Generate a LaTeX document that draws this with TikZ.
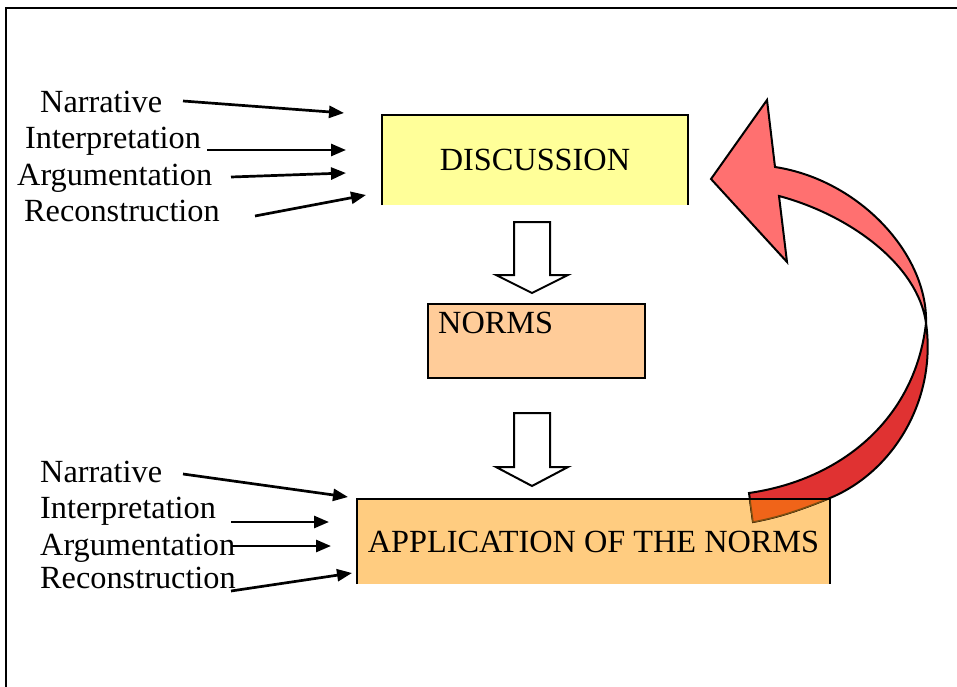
\documentclass[tikz,border=0pt]{standalone}
\usepackage{fontspec}
\setmainfont{Liberation Serif}
\usetikzlibrary{arrows.meta}
\definecolor{discyellow}{HTML}{FFFF99}
\definecolor{normsfill}{HTML}{FFCC99}
\definecolor{applfill}{HTML}{FFCC80}
\definecolor{lightred}{HTML}{FF7070}
\definecolor{darkred}{HTML}{E03232}
\definecolor{overorange}{HTML}{F06419}
\definecolor{overbrown}{HTML}{7F4F10}
\tikzset{
  lbl/.style={anchor=base west, inner sep=0pt, font=\fontsize{32.3}{38}\selectfont},
  boxtxt/.style={inner sep=0pt, font=\fontsize{32.3}{38}\selectfont},
  inarrow/.style={line width=2.7pt, -{Triangle[length=15pt,width=12pt]}},
  boxline/.style={line width=2.5pt},
  blockarrow/.style={draw=black, fill=white, line width=2pt, line join=miter},
  curveline/.style={draw=black, line width=2pt, line join=miter},
}
\begin{document}
\begin{tikzpicture}[x=1pt,y=-1pt]
\useasboundingbox (0,0) rectangle (957,687);
% frame
\draw[line width=2.2pt] (6,687) -- (6,8) -- (957,8);

% boxes (fills)
\node[boxtxt, fill=discyellow, minimum width=306pt, minimum height=90pt] (disc) at (535,160) {DISCUSSION};
\node[fill=normsfill, minimum width=217pt, minimum height=74pt, inner sep=0pt] (norms) at (536.5,341) {};
\node[lbl] (normstxt) at (438,333) {NORMS};
\node[boxtxt, fill=applfill, minimum width=473pt, minimum height=85pt] (appl) at (593.5,541.5) {APPLICATION OF THE NORMS};

% block arrows
\path[blockarrow] (514,222) -- (550,222) -- (550,275) -- (568,275) -- (532,293) -- (496,275) -- (514,275) -- cycle;
\path[blockarrow] (514,413) -- (550,413) -- (550,467) -- (568,467) -- (532,486) -- (496,467) -- (514,467) -- cycle;

% top labels
\node[lbl] (tn) at (40,113) {Narrative};
\node[lbl] (ti) at (25,149) {Interpretation};
\node[lbl] (ta) at (17,185) {Argumentation};
\node[lbl] (tr) at (24,221) {Reconstruction};
\coordinate (tns) at (183,101);  \coordinate (tne) at (344,113);
\coordinate (tis) at (207,150);  \coordinate (tie) at (346,150);
\coordinate (tas) at (231,177);  \coordinate (tae) at (346,173);
\coordinate (trs) at (255,216);  \coordinate (tre) at (366,195);
\draw[inarrow] (tns) -- (tne);
\draw[inarrow] (tis) -- (tie);
\draw[inarrow] (tas) -- (tae);
\draw[inarrow] (trs) -- (tre);

% bottom labels
\node[lbl] (bn) at (40,482) {Narrative};
\node[lbl] (bi) at (40,518) {Interpretation};
\node[lbl] (ba) at (40,555) {Argumentation};
\node[lbl] (br) at (40,588) {Reconstruction};
\coordinate (bns) at (183,474);  \coordinate (bne) at (348,497);
\coordinate (bis) at (231,522);  \coordinate (bie) at (329,522);
\coordinate (bas) at (231,546);  \coordinate (bae) at (331,546);
\coordinate (brs) at (231,591);  \coordinate (bre) at (352,573);
\draw[inarrow] (bns) -- (bne);
\draw[inarrow] (bis) -- (bie);
\draw[inarrow] (bas) -- (bae);
\draw[inarrow] (brs) -- (bre);

% curved arrow: lower (back) part
\path[curveline, fill=darkred] (926,323) .. controls (937,400) and (893,472) .. (830,498)
   .. controls (800,510) and (780,517) .. (753,522) -- (749,493)
   .. controls (840,480) and (915,420) .. (926,323) -- cycle;
% curved arrow: upper (front) part with head
\path[curveline, fill=lightred] (775,167) -- (767,100) -- (711,179) -- (787,262) -- (779,196)
   .. controls (850,215) and (918,265) .. (926,323)
   .. controls (928,255) and (860,180) .. (775,167) -- cycle;
% part over the application box
\begin{scope}
\clip (357,499) rectangle (830,584);
\path[draw=overbrown, line width=1.5pt, fill=overorange] (926,323) .. controls (937,400) and (893,472) .. (830,498)
   .. controls (800,510) and (780,517) .. (753,522) -- (749,493)
   .. controls (840,480) and (915,420) .. (926,323) -- cycle;
\end{scope}

% box borders (bottom edges open for the two wide boxes)
\draw[boxline] (disc.south west) -- (disc.north west) -- (disc.north east) -- (disc.south east);
\draw[boxline] (norms.south west) rectangle (norms.north east);
\draw[boxline] (appl.south west) -- (appl.north west) -- (appl.north east) -- (appl.south east);
\end{tikzpicture}
\end{document}
